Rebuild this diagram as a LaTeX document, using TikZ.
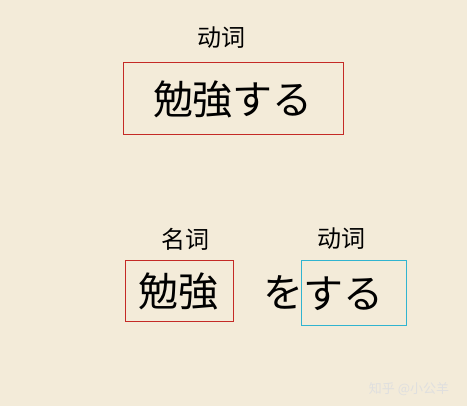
\documentclass[tikz,border=0pt]{standalone}
\usepackage{fontspec}
\usepackage{tikz}
\usepackage{xcolor}
\usetikzlibrary{positioning}
\newfontfamily\jpfont{Noto Sans CJK JP}
\newfontfamily\scfont{Noto Sans CJK SC}
\definecolor{paper}{HTML}{F3EBD9}
\definecolor{boxred}{HTML}{C42A26}
\definecolor{boxcyan}{HTML}{30B4D0}
\tikzset{
    word-box/.style = {draw=boxred, line width=1pt, rectangle, inner sep=2pt, font=\jpfont\fontsize{40}{40}\selectfont},
    word-plain/.style = {inner sep=0pt, font=\jpfont\fontsize{40}{40}\selectfont},
    word-label/.style = {inner sep=0pt, font=\scfont\fontsize{24}{24}\selectfont},
}
\begin{document}
\begin{tikzpicture}[x=1pt,y=-1pt]
\fill[paper] (0,0) rectangle (467,406);
\useasboundingbox (0,0) rectangle (467,406);
% whole verb
\node[word-box, minimum width=220pt, minimum height=72pt] (verb) at (233,99) {勉強する};
\node[word-label] (verb-label) at (221,38) {动词};
% split form
\node[word-box, minimum width=108pt, minimum height=61pt] (noun) at (179,291.5) {勉強};
\node[word-label] (noun-label) at (185,239) {名词};
\node[word-plain] (particle) at (283,292) {を};
\node[word-box, draw=boxcyan, minimum height=65pt, text width=101pt, align=left] (suru) at (353.5,293.5) {する};
\node[word-label] (suru-label) at (341,239) {动词};
% watermark
\node[inner sep=0pt, text=white!75!gray, font=\scfont\fontsize{13}{13}\selectfont] (mark) at (409,389) {知乎 @小公羊};
\end{tikzpicture}
\end{document}
